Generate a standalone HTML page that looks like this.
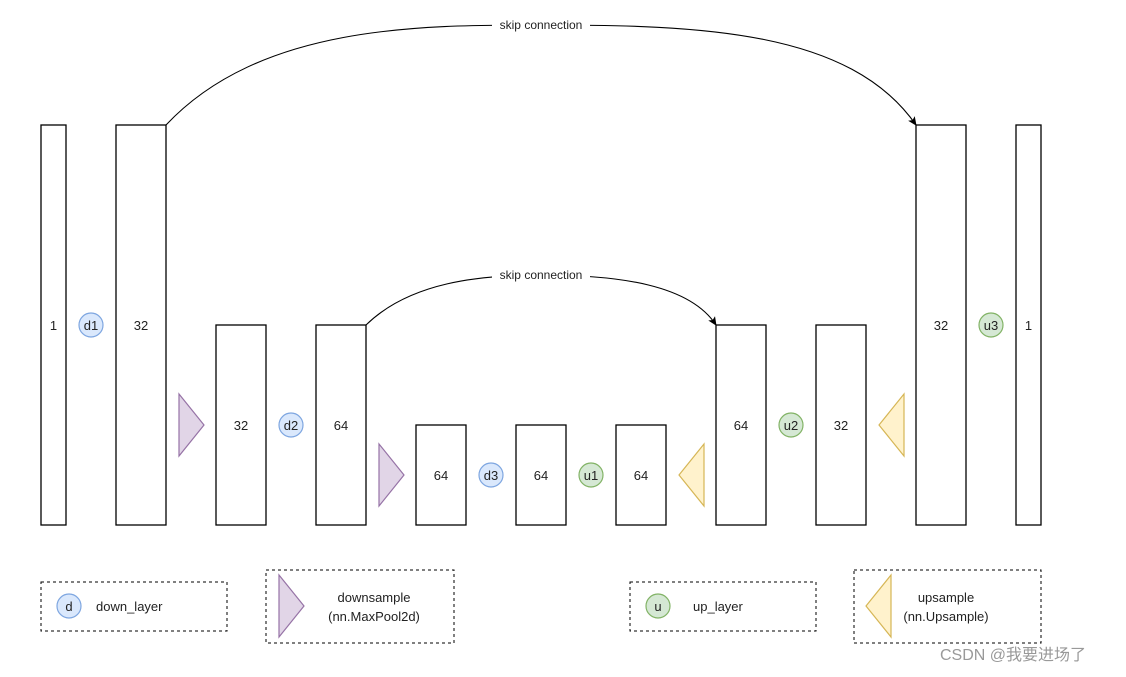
<!DOCTYPE html>
<html><head><meta charset="utf-8"><style>
html,body{margin:0;padding:0;background:#fff;}
svg text{font-family:"Liberation Sans","Noto Sans CJK SC",sans-serif;font-size:13px;fill:#222;}
</style></head><body>
<svg width="1126" height="672" viewBox="0 0 1126 672" xmlns="http://www.w3.org/2000/svg">
<defs><marker id="a" markerWidth="10" markerHeight="10" refX="8" refY="5" orient="auto" markerUnits="userSpaceOnUse"><path d="M0,1 L9,5 L0,9 L2,5z" fill="#000"/></marker></defs>
<g fill="#fff" stroke="#000" stroke-width="1.3">
<rect x="41" y="125" width="25" height="400"/>
<rect x="116" y="125" width="50" height="400"/>
<rect x="216" y="325" width="50" height="200"/>
<rect x="316" y="325" width="50" height="200"/>
<rect x="416" y="425" width="50" height="100"/>
<rect x="516" y="425" width="50" height="100"/>
<rect x="616" y="425" width="50" height="100"/>
<rect x="716" y="325" width="50" height="200"/>
<rect x="816" y="325" width="50" height="200"/>
<rect x="916" y="125" width="50" height="400"/>
<rect x="1016" y="125" width="25" height="400"/>
</g>
<g text-anchor="middle">
<text x="53.5" y="330">1</text><text x="141" y="330">32</text>
<text x="241" y="430">32</text><text x="341" y="430">64</text>
<text x="441" y="480">64</text><text x="541" y="480">64</text><text x="641" y="480">64</text>
<text x="741" y="430">64</text><text x="841" y="430">32</text>
<text x="941" y="330">32</text><text x="1028.5" y="330">1</text>
</g>
<g stroke-width="1.2">
<circle cx="91" cy="325" r="12" fill="#dae8fc" stroke="#7ea6e0"/>
<circle cx="291" cy="425" r="12" fill="#dae8fc" stroke="#7ea6e0"/>
<circle cx="491" cy="475" r="12" fill="#dae8fc" stroke="#7ea6e0"/>
<circle cx="591" cy="475" r="12" fill="#d5e8d4" stroke="#82b366"/>
<circle cx="791" cy="425" r="12" fill="#d5e8d4" stroke="#82b366"/>
<circle cx="991" cy="325" r="12" fill="#d5e8d4" stroke="#82b366"/>
<circle cx="69" cy="606" r="12" fill="#dae8fc" stroke="#7ea6e0"/>
<circle cx="658" cy="606" r="12" fill="#d5e8d4" stroke="#82b366"/>
</g>
<g text-anchor="middle">
<text x="91" y="330">d1</text><text x="291" y="430">d2</text><text x="491" y="480">d3</text>
<text x="591" y="480">u1</text><text x="791" y="430">u2</text><text x="991" y="330">u3</text>
<text x="69" y="611">d</text><text x="658" y="611">u</text>
</g>
<g stroke-width="1.2">
<path d="M179,394 L204,425 L179,456z" fill="#e1d5e7" stroke="#9673a6"/>
<path d="M379,444 L404,475 L379,506z" fill="#e1d5e7" stroke="#9673a6"/>
<path d="M704,444 L679,475 L704,506z" fill="#fff2cc" stroke="#d6b656"/>
<path d="M904,394 L879,425 L904,456z" fill="#fff2cc" stroke="#d6b656"/>
<path d="M279,575 L304,606 L279,637z" fill="#e1d5e7" stroke="#9673a6"/>
<path d="M891,575 L866,606 L891,637z" fill="#fff2cc" stroke="#d6b656"/>
</g>
<g fill="none" stroke="#000" stroke-width="1.1">
<path d="M166,125 C260,25 420,25 541,25 C700,25 850,30 916,125" marker-end="url(#a)"/>
<path d="M366,325 C410,282 480,275 541,275 C620,275 690,285 716,325" marker-end="url(#a)"/>
</g>
<rect x="492" y="17" width="98" height="15" fill="#fff"/>
<rect x="492" y="267" width="98" height="15" fill="#fff"/>
<g text-anchor="middle" style="font-size:12px">
<text x="541" y="29" style="font-size:12px">skip connection</text>
<text x="541" y="279" style="font-size:12px">skip connection</text>
</g>
<g fill="none" stroke="#000" stroke-dasharray="3,3" stroke-width="1">
<rect x="41" y="582" width="186" height="49"/>
<rect x="266" y="570" width="188" height="73"/>
<rect x="630" y="582" width="186" height="49"/>
<rect x="854" y="570" width="187" height="73"/>
</g>
<text x="96" y="611">down_layer</text>
<text x="693" y="611">up_layer</text>
<g text-anchor="middle">
<text x="374" y="602">downsample</text><text x="374" y="621">(nn.MaxPool2d)</text>
<text x="946" y="602">upsample</text><text x="946" y="621">(nn.Upsample)</text>
</g>
<text x="940" y="660" style="font-size:16px;fill:#999">CSDN @我要进场了</text>
</svg>
</body></html>
